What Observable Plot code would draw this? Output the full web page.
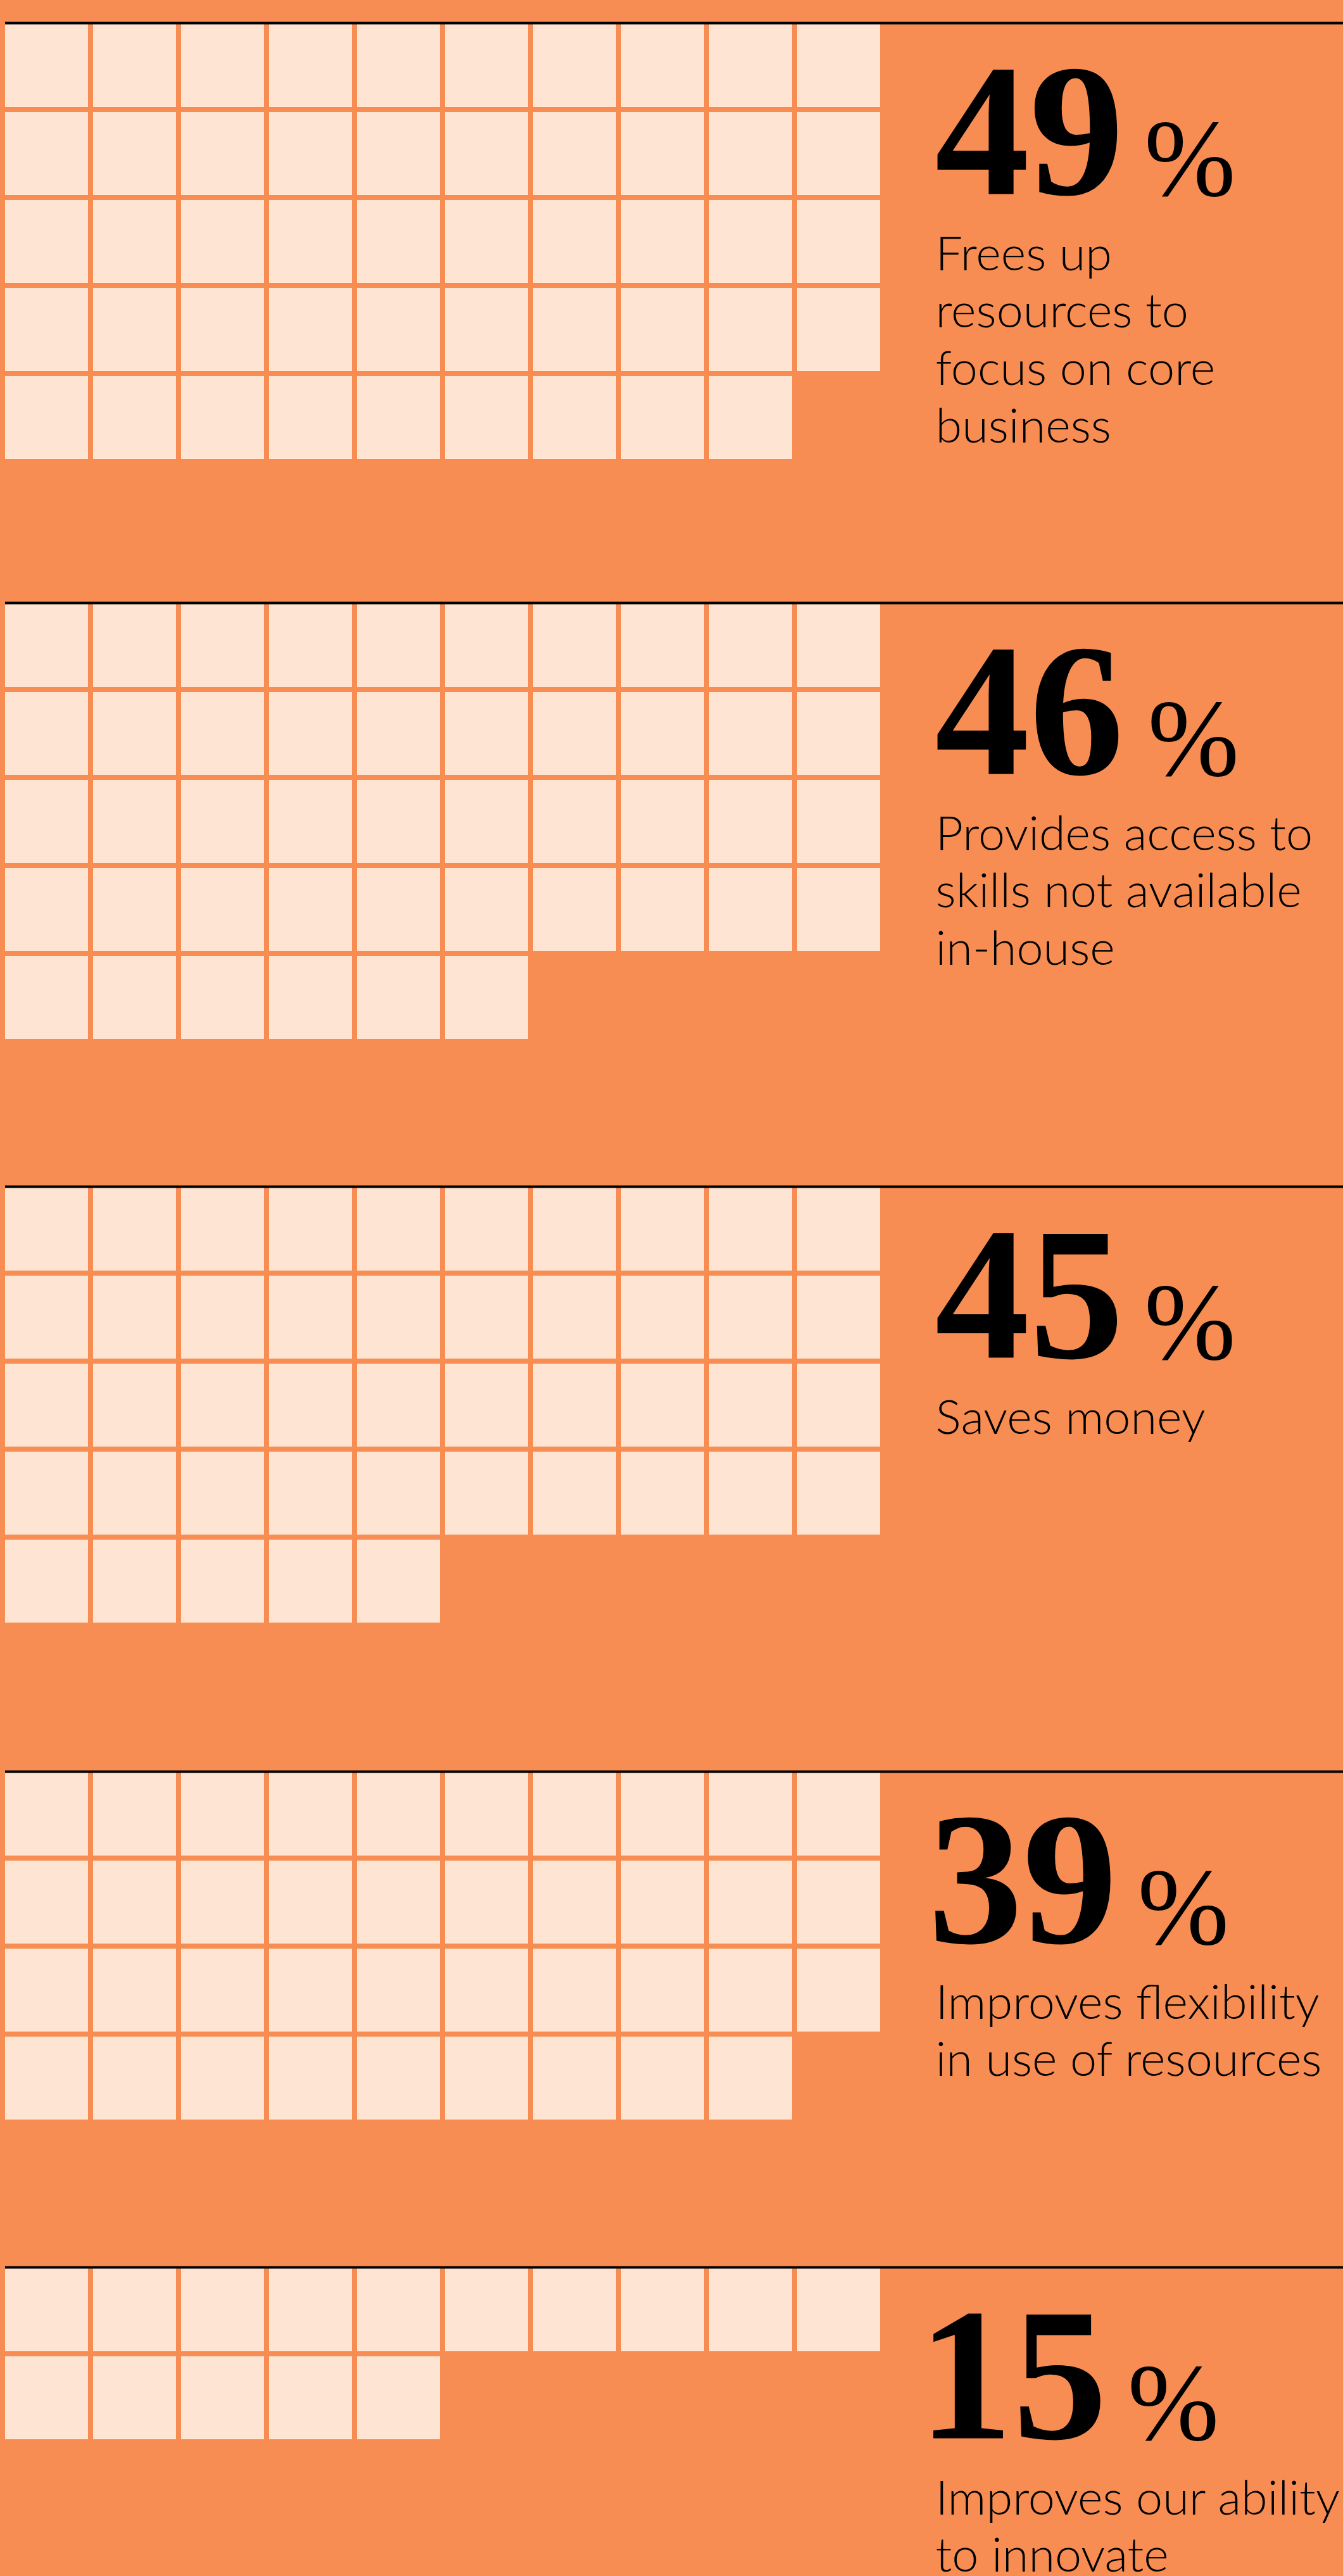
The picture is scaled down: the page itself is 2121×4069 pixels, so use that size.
<!DOCTYPE html>
<html>
<head>
<meta charset="utf-8">
<script src="https://cdn.jsdelivr.net/npm/d3@7"></script>
<script src="https://cdn.jsdelivr.net/npm/@observablehq/plot@0.6"></script>
<style>
  html, body { margin: 0; padding: 0; background: #F78D52; }
  #chart { position: relative; width: 2121px; height: 4069px; overflow: hidden; background: #F78D52; }
</style>
</head>
<body>
<div id="chart"></div>
<script>
// ---------------- data ----------------
const percentages = [49, 46, 45, 39, 15];
const labelLines = [
  ["Frees up", "resources to", "focus on core", "business"],
  ["Provides access to", "skills not available", "in-house"],
  ["Saves money"],
  ["Improves flexibility", "in use of resources"],
  ["Improves our ability", "to innovate"]
];
const perRow = 10;     // squares per row (1 square = 1%)
const gridRows = 5;    // rows reserved per grid

// ---------------- layout & style ----------------
const W = 2121, H = 4069;
const panelTops = [34, 950, 1872, 2796, 3579];
const step = 139, gap = 8, gridLeft = 8, lineW = 4;
const textDx = 78;
const numBaseline = 272, labelBaseline = 392, labelLeading = 91;
const cellFill = "#FEE4D3", ink = "#000000";
const numFont = "Liberation Serif", numInkHeight = 197, numInkWidth = 324;
const pctInkHeight = 118, pctInkWidth = 116, pctGap = 8;
const labelFont = "Lato", labelWeight = 300, labelFitWidth = 640;

const ctx = document.createElement("canvas").getContext("2d");
function measure(s, font) {
  ctx.font = font;
  const m = ctx.measureText(s);
  return {left: m.actualBoundingBoxLeft, right: m.actualBoundingBoxRight,
          ascent: m.actualBoundingBoxAscent, descent: m.actualBoundingBoxDescent, width: m.width};
}
const probe = measure("49", `700 100px "${numFont}"`);
const numSize = 100 * numInkHeight / probe.ascent;
const numStretch = numInkWidth / ((probe.left + probe.right) * numSize / 100);
const pctProbe = measure("%", `400 100px "${numFont}"`);
const pctSize = 100 * pctInkHeight / (pctProbe.ascent + pctProbe.descent);
const pm = measure("%", `400 ${pctSize}px "${numFont}"`);
const pctStretch = pctInkWidth / (pm.left + pm.right);
const labelSize = 72 * labelFitWidth / measure("Improves our ability", `${labelWeight} 72px "${labelFont}"`).width;

function stretchText(svg, name, k) {
  svg.querySelectorAll(`g[aria-label="${name}"] text`).forEach(t => {
    t.setAttribute("transform", (t.getAttribute("transform") || "") + ` scale(${k},1)`);
  });
}

const chart = document.getElementById("chart");

percentages.forEach((value, i) => {
  const top = panelTops[i];
  const ph = (i + 1 < panelTops.length ? panelTops[i + 1] : H) - top;
  const cells = d3.range(value).map(k => ({col: k % perRow, row: Math.floor(k / perRow)}));
  const m = measure(String(value), `700 ${numSize}px "${numFont}"`);
  const numDx = textDx + m.left * numStretch;
  const inkRight = numDx + m.right * numStretch;
  const pctDx = inkRight + pctGap + pm.left * pctStretch;

  const plot = Plot.plot({
    width: W,
    height: ph,
    marginLeft: gridLeft, marginRight: 0, marginTop: lineW, marginBottom: 0,
    style: {background: "transparent", overflow: "visible"},
    x: {domain: [0, perRow], range: [gridLeft, gridLeft + perRow * step], axis: null},
    y: {domain: [0, gridRows], range: [lineW, lineW + gridRows * step], axis: null},
    marks: [
      Plot.rect(cells, {
        x1: "col", x2: d => d.col + 1, y1: "row", y2: d => d.row + 1,
        insetRight: gap, insetBottom: gap, fill: cellFill
      }),
      Plot.ruleY([0], {stroke: ink, strokeWidth: lineW, dy: -lineW / 2}),
      Plot.text([value], {
        ariaLabel: "percentage",
        x: () => perRow, y: () => 0, text: d => String(d),
        textAnchor: "start", lineAnchor: "bottom",
        dx: numDx, dy: numBaseline - lineW,
        fontFamily: numFont, fontWeight: 700, fontSize: numSize, fill: ink
      }),
      Plot.text(["%"], {
        ariaLabel: "percent-sign",
        x: () => perRow, y: () => 0, text: d => d,
        textAnchor: "start", lineAnchor: "bottom",
        dx: pctDx, dy: numBaseline - lineW + 2,
        fontFamily: numFont, fontWeight: 400, fontSize: pctSize, fill: ink
      }),
      Plot.text([labelLines[i].join("\n")], {
        ariaLabel: "label",
        x: () => perRow, y: () => 0, text: d => d,
        textAnchor: "start", lineAnchor: "top",
        lineHeight: labelLeading / labelSize,
        dx: textDx + 1, dy: labelBaseline - lineW - 0.71 * labelLeading,
        fontFamily: labelFont, fontWeight: labelWeight, fontSize: labelSize, fill: ink
      })
    ]
  });
  plot.style.position = "absolute";
  plot.style.left = "0px";
  plot.style.top = top + "px";
  plot.style.maxWidth = "none";
  stretchText(plot, "percentage", numStretch);
  stretchText(plot, "percent-sign", pctStretch);
  chart.appendChild(plot);
});
</script>
</body>
</html>
